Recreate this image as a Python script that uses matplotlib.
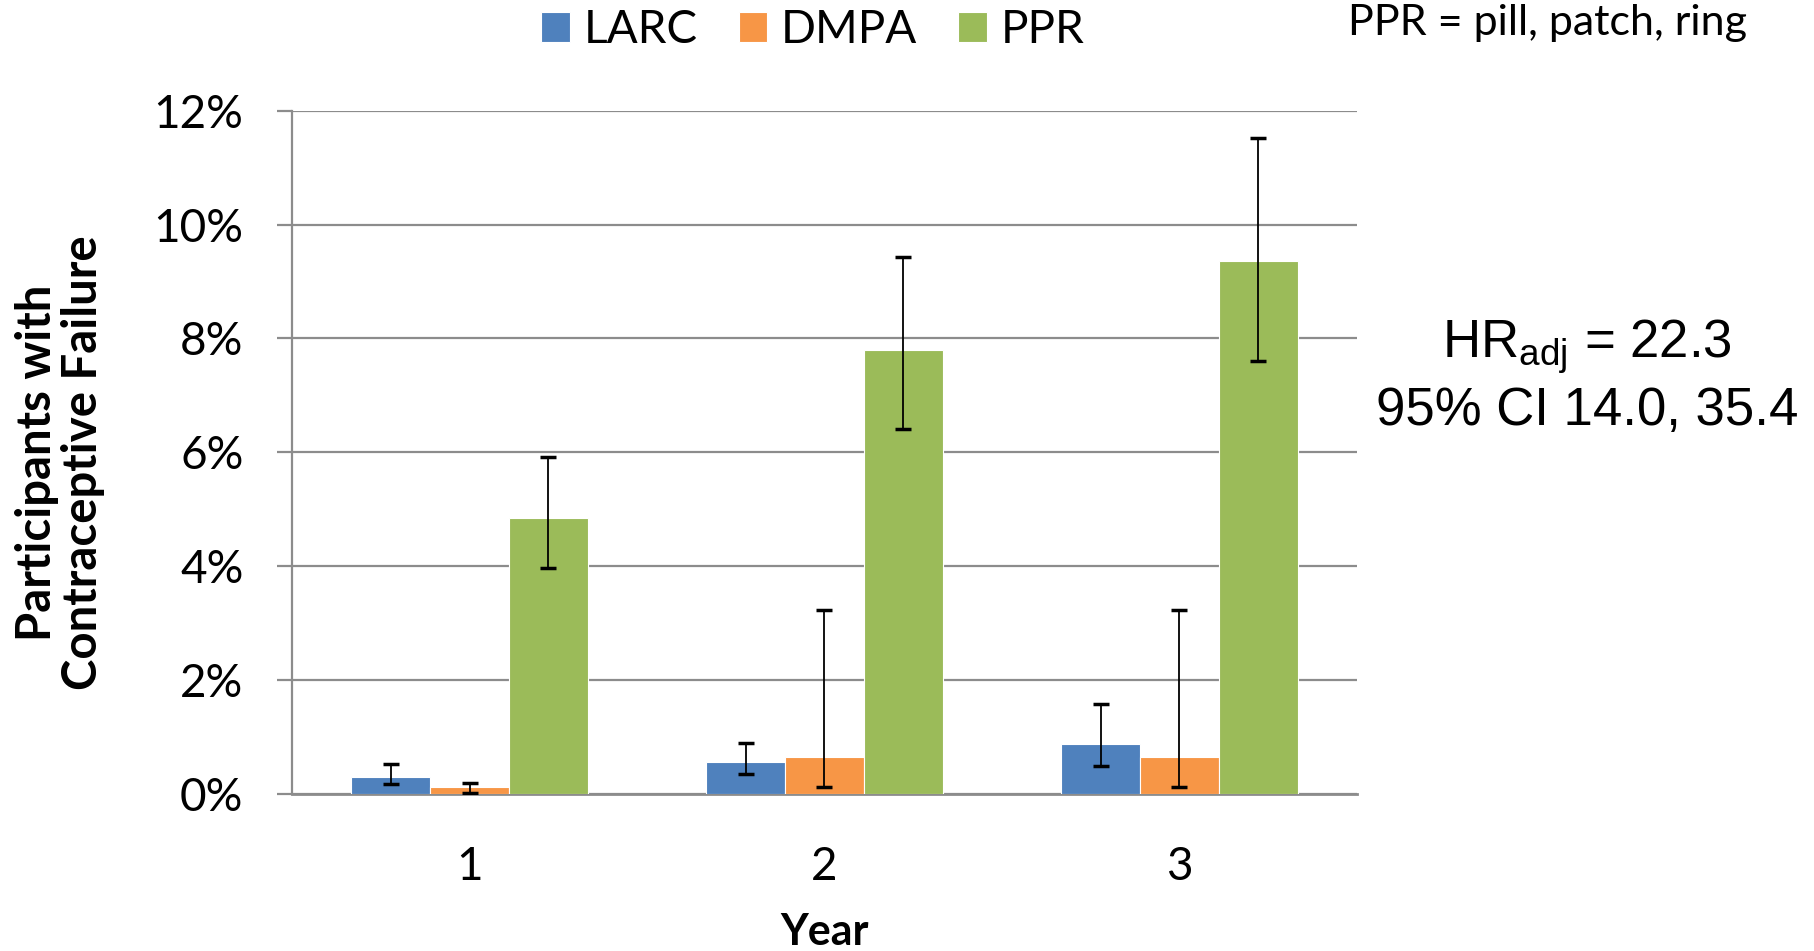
import numpy as np
import matplotlib.pyplot as plt

# contraceptive failure by year and method, with 95% CI bounds (%)
years = ["1", "2", "3"]
methods = ["LARC", "DMPA", "PPR"]
larc = [0.29, 0.55, 0.87]
larc_lo = [0.17, 0.35, 0.49]
larc_hi = [0.52, 0.89, 1.57]
dmpa = [0.12, 0.65, 0.65]
dmpa_lo = [0.02, 0.12, 0.12]
dmpa_hi = [0.18, 3.22, 3.22]
ppr = [4.84, 7.79, 9.36]
ppr_lo = [3.97, 6.41, 7.61]
ppr_hi = [5.92, 9.44, 11.53]
colors = ["#4F81BD", "#F79646", "#9BBB59"]

plt.rcParams["font.family"] = ["Lato", "DejaVu Sans"]
plt.rcParams["mathtext.fontset"] = "custom"
plt.rcParams["mathtext.rm"] = "Liberation Sans"

fig = plt.figure(figsize=(18.14, 9.51), dpi=100)
ax = fig.add_axes([0.161, 0.1654, 0.587, 0.718])

x = np.arange(1, len(years) + 1)
w = 0.222
series = [(larc, larc_lo, larc_hi), (dmpa, dmpa_lo, dmpa_hi), (ppr, ppr_lo, ppr_hi)]
for i, (vals, lo, hi) in enumerate(series):
    v = np.array(vals) / 100
    err = [v - np.array(lo) / 100, np.array(hi) / 100 - v]
    ax.bar(x + (i - 1) * w, v, width=w, color=colors[i], edgecolor="white",
           linewidth=0.8, label=methods[i], zorder=3,
           yerr=err, error_kw=dict(ecolor="black", elinewidth=1.3, capsize=6, capthick=2.5, zorder=4))

ax.set_xlim(0.5, 3.5)
ax.set_ylim(0, 0.12)
ax.set_yticks(np.arange(0, 0.121, 0.02))
ax.set_yticklabels([f"{int(round(t * 100))}%" for t in np.arange(0, 0.121, 0.02)])
ax.set_xticks(x)
ax.set_xticklabels(years)
ax.yaxis.grid(True, color="#8C8C8C", linewidth=1.6, zorder=0)
for s in ["top", "right"]:
    ax.spines[s].set_visible(False)
ax.spines["left"].set_color("#8C8C8C")
ax.spines["left"].set_linewidth(1.6)
ax.spines["bottom"].set_color("#8C8C8C")
ax.spines["bottom"].set_linewidth(2)
ax.tick_params(axis="y", length=11, width=1.6, color="#8C8C8C", labelsize=33, pad=24)
ax.tick_params(axis="x", length=0, labelsize=33, pad=38)

ax.set_xlabel("Year", fontsize=31, fontweight="bold", labelpad=17)
fig.text(0.033, 0.513, "Participants with\nContraceptive Failure", rotation=90,
         ha="center", va="center", multialignment="center",
         fontsize=34, fontweight="bold", linespacing=1.05)

fig.legend(loc="upper center", bbox_to_anchor=(0.448, 1.034), ncol=3, frameon=False,
           fontsize=33, handlelength=0.62, handleheight=0.62, handletextpad=0.3,
           columnspacing=0.9)
fig.text(0.853, 0.976, "PPR = pill, patch, ring", ha="center", va="center", fontsize=31)

fig.text(0.875, 0.635, "HR$_{\\mathrm{adj}}$ = 22.3", ha="center", va="center",
         fontsize=38, family="Liberation Sans")
fig.text(0.875, 0.568, "95% CI 14.0, 35.4", ha="center", va="center",
         fontsize=38, family="Liberation Sans")

fig.savefig("out.png", dpi=100)
